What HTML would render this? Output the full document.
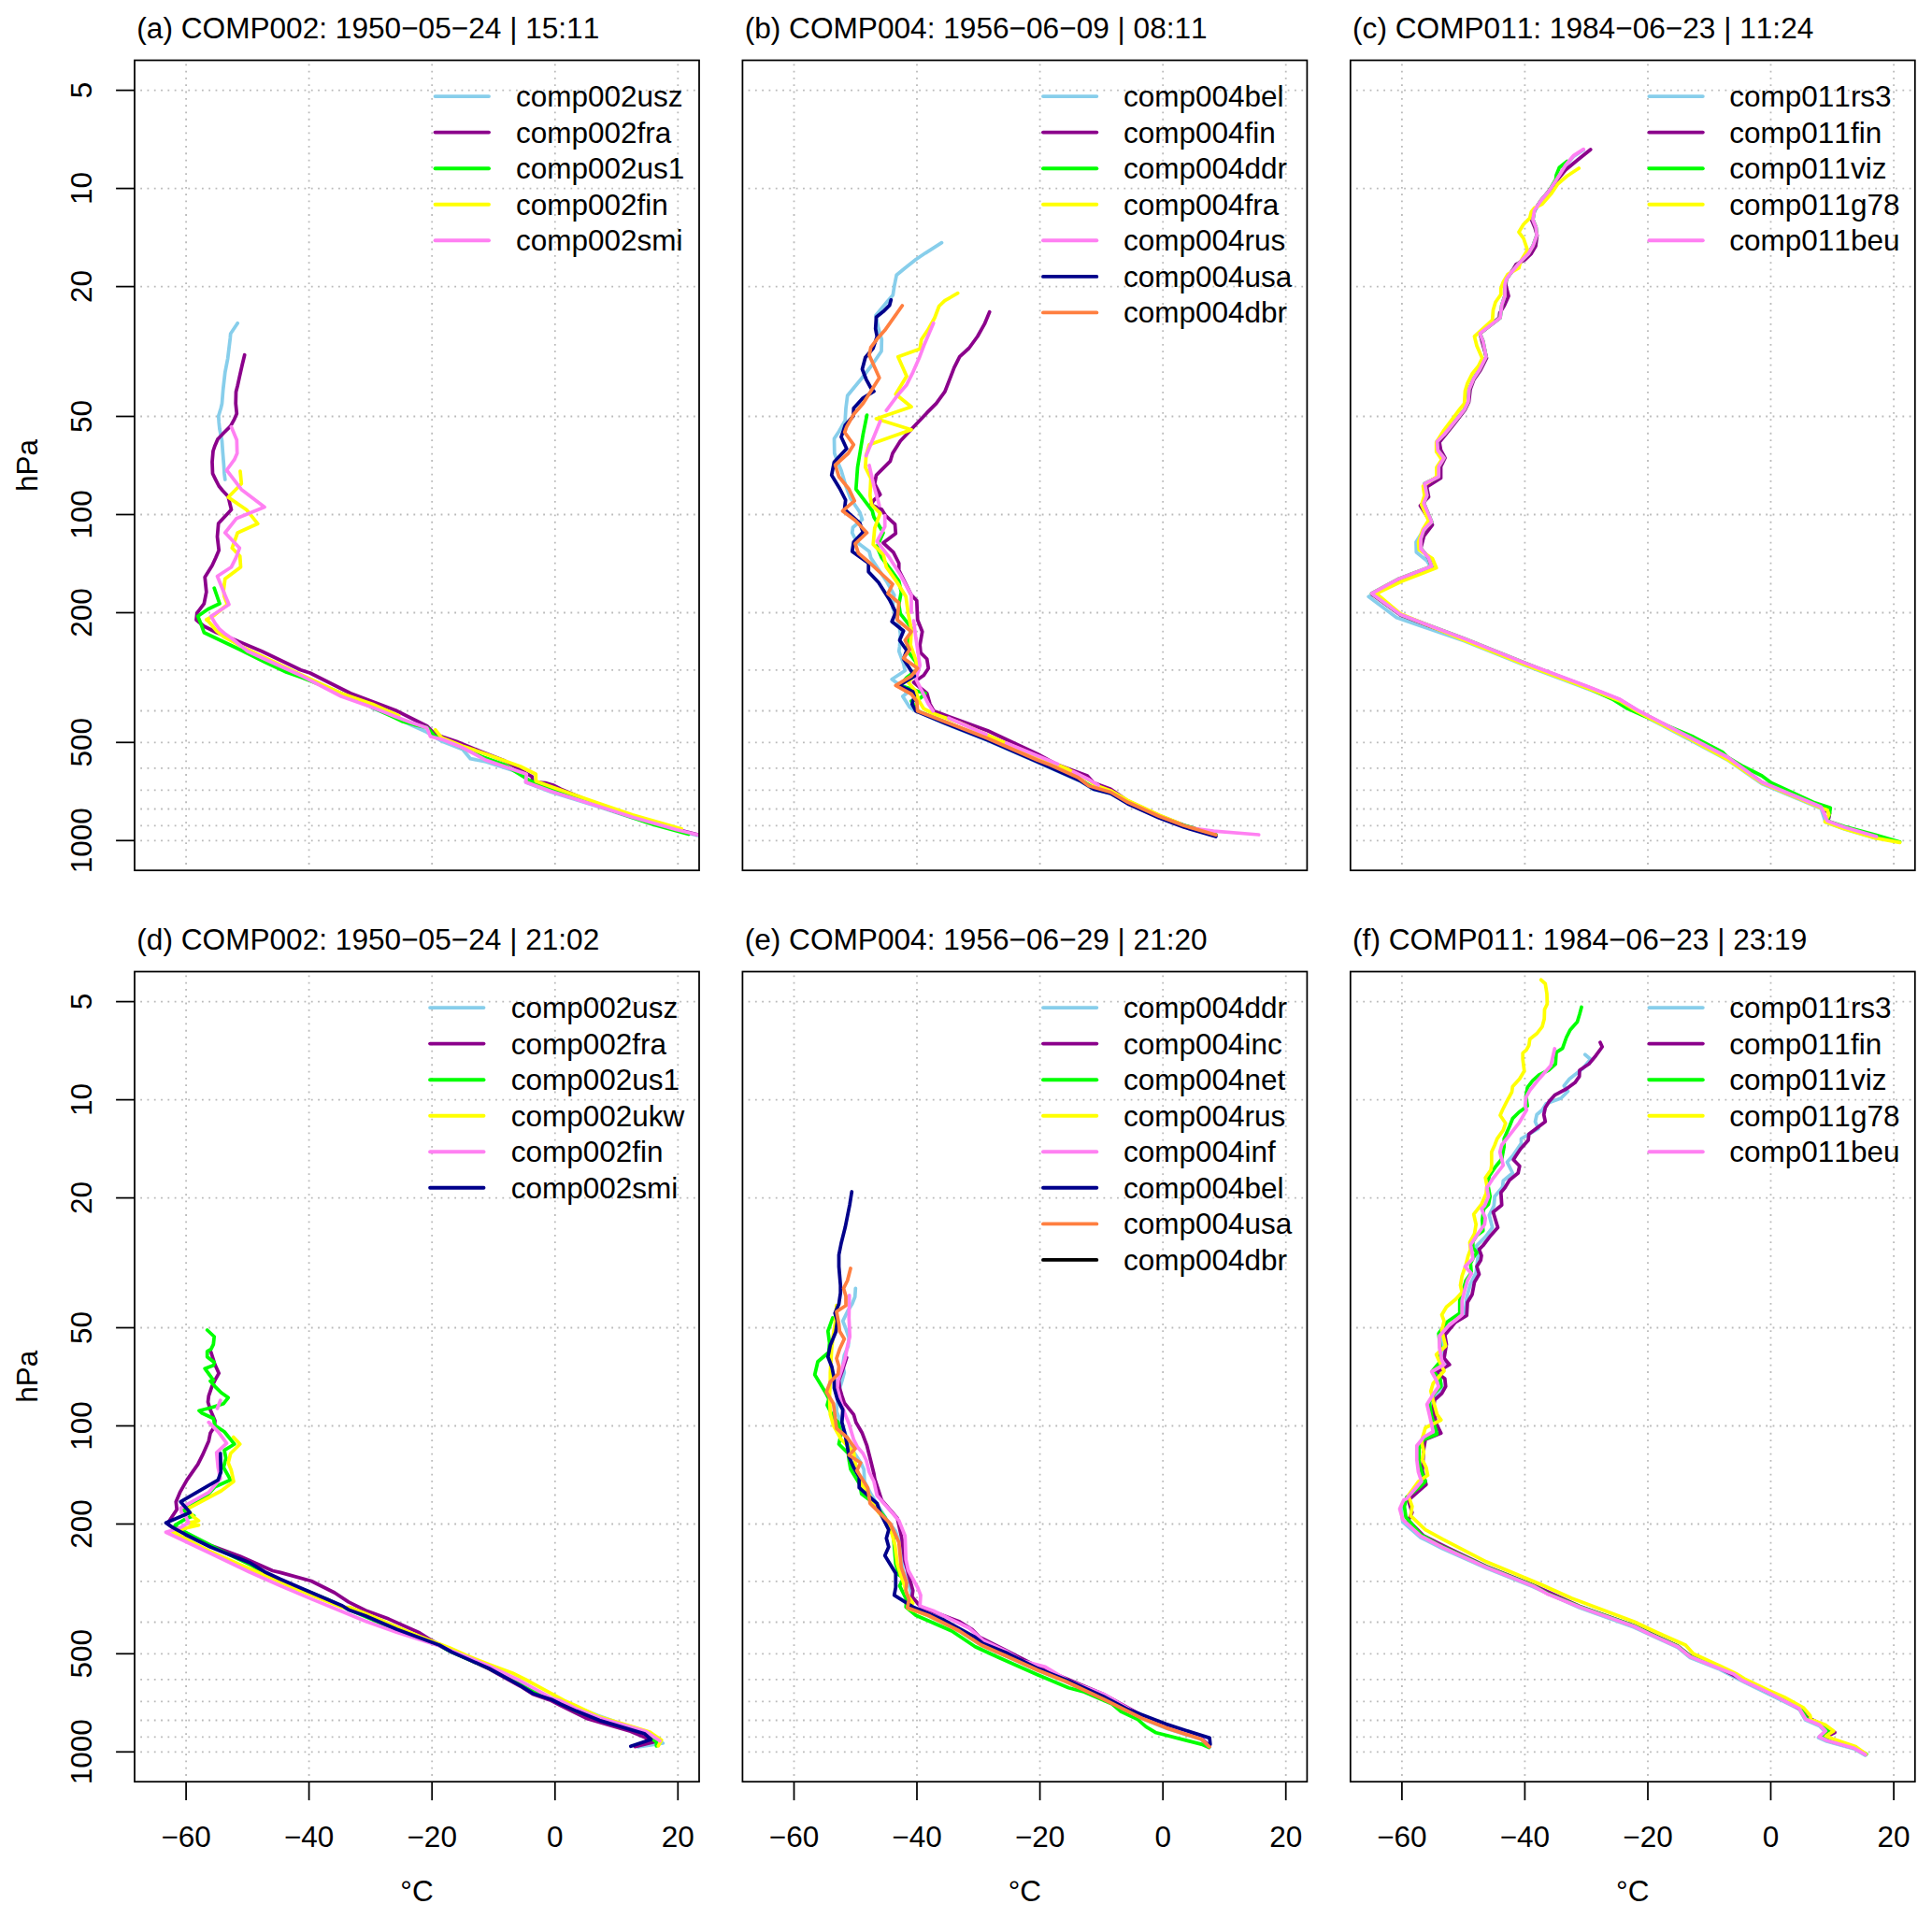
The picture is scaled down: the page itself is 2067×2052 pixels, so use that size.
<!DOCTYPE html>
<html><head><meta charset="utf-8"><title>profiles</title>
<style>html,body{margin:0;padding:0;background:#fff}svg{display:block}text{font-kerning:none;font-family:"Liberation Sans",sans-serif;font-size:31.5px;fill:#000}</style></head><body>
<svg width="2067" height="2052" viewBox="0 0 2067 2052">
<rect width="2067" height="2052" fill="#fff"/>
<defs>
<clipPath id="cp00"><rect x="144" y="64.5" width="604" height="866.7"/></clipPath>
<clipPath id="cp01"><rect x="794.4" y="64.5" width="604" height="866.7"/></clipPath>
<clipPath id="cp02"><rect x="1444.8" y="64.5" width="604" height="866.7"/></clipPath>
<clipPath id="cp10"><rect x="144" y="1039.5" width="604" height="866.7"/></clipPath>
<clipPath id="cp11"><rect x="794.4" y="1039.5" width="604" height="866.7"/></clipPath>
<clipPath id="cp12"><rect x="1444.8" y="1039.5" width="604" height="866.7"/></clipPath>
</defs>
<g>
<g stroke="#bababa" stroke-width="1.8" stroke-dasharray="1.8 5.505" fill="none"><path d="M150.2 96.6H747"/><path d="M150.2 201.6H747"/><path d="M150.2 306.6H747"/><path d="M150.2 445.5H747"/><path d="M150.2 550.5H747"/><path d="M150.2 655.5H747"/><path d="M150.2 716.9H747"/><path d="M150.2 760.5H747"/><path d="M150.2 794.3H747"/><path d="M150.2 821.9H747"/><path d="M150.2 845.3H747"/><path d="M150.2 865.5H747"/><path d="M150.2 883.4H747"/><path d="M150.2 899.3H747"/><path d="M199.1 68.4V930.2"/><path d="M330.6 68.4V930.2"/><path d="M462.2 68.4V930.2"/><path d="M593.8 68.4V930.2"/><path d="M725.3 68.4V930.2"/></g>
<g clip-path="url(#cp00)" fill="none" stroke-width="3.75" stroke-linejoin="round" stroke-linecap="round"><path stroke="#87CEEB" d="M254.2,345.8 246.7,357 246.3,361.7 243.7,383.3 240.8,398.3 238.7,416.7 237.5,431.7 236.3,436.7 233.8,445 234.2,451.7 235,459.2 237.5,471.7 238.3,483.3 239.5,498.3 240,506.7 240.8,513M398.3,757.5 423.3,767.5 440,775.8 456.7,783.3 473.3,793.3 495,801.7 503.3,811.7 520,815 563.3,829 562.5,837 590,847.5 640,863 676.7,875 723.3,888 746.7,894"/><path stroke="#8B008B" d="M261.7,379.7 259.2,390 256.2,403.3 254.2,412.5 252.5,419.2 252.2,431.7 253.3,442.5 250.8,448.3 246.7,455.8 240,462.5 233,469.7 230,476.7 228,482.5 227,494.2 227.5,506.7 230.8,513.3 234.2,520 238.3,525 244.2,531.3 245.8,538.3 247.5,545.3 240,553.3 233.7,560 232.5,574.2 234.2,588.7 230.8,596.7 227,605 219.2,617.5 220.8,633.3 218.3,645.8 210.8,655.8 210,663.3 218.3,670 231.7,676.7 245,682 280,696.7 321.7,716.7 331.7,720 375,741.7 423.3,760 456.7,776.7 465,785 473.3,788.3 488.3,793.3 512,803 540,814 563.3,827.5 569.2,830.8 570,836.7 583.3,837.5 591.7,840 600,844.2 640,861 676.7,873 723.3,887 746.7,893"/><path stroke="#00FF00" d="M229.2,629.2 235,645.8 222.5,651.7 211.7,659.2 215,667.5 218.3,676.7 256.7,695 283.3,708.3 306.7,719.2 323.3,725 356.7,738.3 398.3,756.7 423.3,768.3 430,771.7 443.3,775.3 456.7,778.3 460,781.7 465,787.5 473.3,790 495,800 515,809.2 540,818.3 560,830.8 566.7,835 576.7,839.2 598.3,846.7 640,862 690,879.2 700,882.5 736.7,892.5"/><path stroke="#FFFF00" d="M257,504.2 258.3,517.5 244.2,532 264.2,545.8 275.8,560.3 254.2,570 248.3,586.3 256.7,595 257.5,606.7 240.8,619.2 239.2,631.7 240,638.3 243.3,646.7 229.2,658.3 220.8,663 223.3,665 231.7,675 240,681.7 265,695 293.3,708.3 323.3,722.5 365,741.7 398.3,753.3 426.7,765.8M465.8,780.8 472.5,789.2 495,798.3 520,806.7 556.7,820 573.3,828.3 573.3,835.8 590,841.7 640,859.2 676.7,871.7 729.2,886.7"/><path stroke="#FF80F2" d="M247.5,456.7 253.3,470.8 253.7,485 250.8,491.7 242.5,503 258.3,523.7 283,542.5 253,554.7 240.8,570 256.3,586.3 252.5,596.7 247.5,606.7 232.5,616.5 240,635 245,646.7 225.8,659.2 230,666.7 235,673.3 240,677.5 248.3,683.3 265,696.7 290,708.3 323.3,723.3 365,745 398.3,756.7 423.3,766.7 440,772.9 456.7,778.8 460.4,787.9 475,791.7 495,800 520,813.3 563.3,828.3 562.5,836.7 590,846.7 640,862.5 676.7,874.2 723.3,887.5 746.7,893.3 752,894.6"/></g>
<g stroke-width="3.9" stroke-linecap="round"><path stroke="#87CEEB" d="M465.6 103.1H523"/><path stroke="#8B008B" d="M465.6 141.6H523"/><path stroke="#00FF00" d="M465.6 180.2H523"/><path stroke="#FFFF00" d="M465.6 218.8H523"/><path stroke="#FF80F2" d="M465.6 257.3H523"/></g><text x="552" y="114.1">comp002usz</text><text x="552" y="152.6">comp002fra</text><text x="552" y="191.2">comp002us1</text><text x="552" y="229.8">comp002fin</text><text x="552" y="268.3">comp002smi</text>
<rect x="144" y="64.5" width="604" height="866.7" fill="none" stroke="#000" stroke-width="1.75"/>
<text style="font-size:31.62px" x="146.3" y="41.3">(a) COMP002: 1950−05−24 | 15:11</text>
<g stroke="#000" stroke-width="1.75"><path d="M124.1 96.6H144"/><path d="M124.1 201.6H144"/><path d="M124.1 306.6H144"/><path d="M124.1 445.5H144"/><path d="M124.1 550.5H144"/><path d="M124.1 655.5H144"/><path d="M124.1 794.3H144"/><path d="M124.1 899.3H144"/></g><text text-anchor="middle" transform="translate(98.4 96.6) rotate(-90)">5</text><text text-anchor="middle" transform="translate(98.4 201.6) rotate(-90)">10</text><text text-anchor="middle" transform="translate(98.4 306.6) rotate(-90)">20</text><text text-anchor="middle" transform="translate(98.4 445.5) rotate(-90)">50</text><text text-anchor="middle" transform="translate(98.4 550.5) rotate(-90)">100</text><text text-anchor="middle" transform="translate(98.4 655.5) rotate(-90)">200</text><text text-anchor="middle" transform="translate(98.4 794.3) rotate(-90)">500</text><text text-anchor="middle" transform="translate(98.4 899.3) rotate(-90)">1000</text><text text-anchor="middle" transform="translate(40 497.9) rotate(-90)">hPa</text>
</g>
<g>
<g stroke="#bababa" stroke-width="1.8" stroke-dasharray="1.8 5.505" fill="none"><path d="M800.6 96.6H1397.4"/><path d="M800.6 201.6H1397.4"/><path d="M800.6 306.6H1397.4"/><path d="M800.6 445.5H1397.4"/><path d="M800.6 550.5H1397.4"/><path d="M800.6 655.5H1397.4"/><path d="M800.6 716.9H1397.4"/><path d="M800.6 760.5H1397.4"/><path d="M800.6 794.3H1397.4"/><path d="M800.6 821.9H1397.4"/><path d="M800.6 845.3H1397.4"/><path d="M800.6 865.5H1397.4"/><path d="M800.6 883.4H1397.4"/><path d="M800.6 899.3H1397.4"/><path d="M849.5 68.4V930.2"/><path d="M981 68.4V930.2"/><path d="M1112.6 68.4V930.2"/><path d="M1244.2 68.4V930.2"/><path d="M1375.7 68.4V930.2"/></g>
<g clip-path="url(#cp01)" fill="none" stroke-width="3.75" stroke-linejoin="round" stroke-linecap="round"><path stroke="#87CEEB" d="M1007.5,259.7 990,270.8 980,277.5 968.3,286.7 959.2,294.2 956.7,306.7 955.3,315.8 950,321.7 937,337.5 939.7,350.8 943.3,363.3 943,375.8 933.3,390 921.7,405 906.7,423.3 905,436.7 904.2,450 897.5,461.7 892.5,469.2 892.8,485 895.8,493.3 900,503.3 905,520 910,533.3 916.7,543.3 920,548.3 922.5,555.8 912.5,564.2 911.7,570 916.7,580 930,590 931.7,596.7 938.3,606.7 948.3,621.7 956.7,636.7 955,650 961.7,666.7 963.3,678.3 962.5,691.7 961.7,696.7 966.7,710 968.3,717.5 954.2,726.7 966.7,735.8 970,741.7 965.8,745 973.3,756.7 980,760.8 1010,773.8 1056.7,792.2 1110,815.5 1155,835.5 1170,844.7 1188.3,849 1206.7,859.5 1240,874.5 1266.7,884.5 1300.8,894"/><path stroke="#8B008B" d="M1058.7,333.7 1053.3,346.7 1045.8,360 1036.7,372.5 1026.7,381.7 1020.8,393.3 1016.7,404.2 1010.8,419.2 1001.7,431.7 991.7,441.7 976.7,457.5 963.3,471.7 955,485 952.5,493.3 937.5,508.3 935.8,517.5 941.7,529.2 935,535 931.7,540 943.3,545 947.5,551.7 957.5,560.8 958.3,570.8 945,580.8 955.8,590.8 961.7,602.5 961.7,610 975,636.7 980.8,642.5 981.7,663.3 986.7,675.8 984.2,690 985,698.3 991.7,705 993.3,715 988.3,722.5 977.5,730 991.7,741.7 995,753.3 999.2,760.8 1056.7,781.7 1110,806.7 1131.7,818.3 1163.3,830 1170,837.5 1188.3,844.2 1196.7,850 1206.7,857 1240,872.5 1266.7,883 1300.8,893.3"/><path stroke="#00FF00" d="M927.5,444.2 923.3,465 917.5,500 915.8,523.3 925.8,536.7 933.3,546.7 935,553.3 945,570 938.3,585 943.3,596.7 953.3,610 961.7,621.7 964.2,633.3 961.7,646.7 963.3,656.7 975,671.7 973.3,681.7 970,695 980,708.3 980.8,716.7 970,725 963.3,733.3 983.3,740 990,741.7 985,746.7 975,750 981.7,760.8 1010,772 1056.7,790.5 1110,813.5 1155,833.5 1170,843 1188.3,847.5 1206.7,858 1240,873 1266.7,883 1300.8,893"/><path stroke="#FFFF00" d="M1024.7,313.7 1010.8,321.7 1004.7,327.5 1000,340 992.5,353.3 985.8,363.3 984.2,373.3 960.8,381.7 970,402.5 958.3,421.7 975,435.3 937.5,448 975,459.7 930,475.8 926.7,486.7 925.8,500 931.7,511.7 930.8,530 932.5,540 941.7,549.2 935.8,565 934.2,582.5 945,593.3 948.3,606.7 960,623.3 969.2,638.3 971.7,656.7 975,673.3 974.2,690 980,706.7 981.7,718.3 971.7,730 980,740 983.3,750 988.3,758.3 998.3,763.3 1026.7,773.3 1068.3,791.7 1143.3,823.3 1165,834.5 1172,840 1188.3,846 1206.7,856.5 1240,872 1262,881"/><path stroke="#FF80F2" d="M998.7,345.8 988.3,370 983.3,383.3 976.7,398.3 970,411.7 960,423.3 948.3,439.2M941.7,450.8 926.7,487.5M930,498 935,520 940.8,540.8M946.7,551.7 946.7,563.3 938.3,579.2 951.7,596.7 963.3,615 975,636.7 975,655M977.5,664.2 980,683.3 984.2,711.7 980,726.7 986.7,740 993.3,753.3 998.3,760.8M1015,768.3 1055,785.8M1076.7,795 1131.7,817.5M1148.3,825.8 1165,834 1175,840M1273.3,885.8 1298.3,889.2 1346.7,893"/><path stroke="#00008B" d="M953.3,320.8 951.7,326.7 945,333.3 937.5,339.2 936.7,351.7 938.3,360 934.2,372.5 925.8,382.5 922.5,395 926.7,405.8 931.7,415 935,418.7 923.3,425.8 913.3,436.7 913,445 904.2,455 900,467.5 905.8,480 892.5,494.2 889.7,508.3 898.3,522.5 904.7,535 903.5,545 920,560 923.3,569.2 913.3,580 911.7,590 929.2,602.5 929.2,611.7 940,623.3 951.7,641.7 958.3,655 954.2,665 966.7,675 962.5,685 970,695.8 966.7,705 978.3,723.3 961.7,733.3 976.7,740 978.3,745 975.8,753.3 980,760.8 1010,773.3 1056.7,791.7 1110,815 1155,835 1170,844.2 1188.3,849 1206.7,860 1240,875 1266.7,885 1300.8,895"/><path stroke="#FF7F40" d="M965.3,327 946.7,353.3 939.2,361.7 931.7,371.7 930,380 940.8,404.2 923.3,431.7 913.3,443.3 905.8,456.7 903.7,462.5 913.3,475.8 907.5,485 893.7,497.5 897.5,510 908.3,523.3 914.2,535.8 901.5,546.7 915,556.7 927.5,570 915,581.7 918.3,591.7 930,601.7 955,625 950,635 961.7,645 960,663.3 975,675.8 968.3,685 973.3,695 966.7,704.2 981.7,715 975,723.3 958.3,733.3 975,742.5 980.8,750 981.7,760.8 1010,771.7 1056.7,790 1110,813.3 1123.3,818.3 1153.3,831.7 1165,840.8 1188.3,847.5 1206.7,858.3 1240,873.3 1266.7,883.3 1300.8,893.3"/></g>
<g stroke-width="3.9" stroke-linecap="round"><path stroke="#87CEEB" d="M1116 103.1H1173.3"/><path stroke="#8B008B" d="M1116 141.6H1173.3"/><path stroke="#00FF00" d="M1116 180.2H1173.3"/><path stroke="#FFFF00" d="M1116 218.8H1173.3"/><path stroke="#FF80F2" d="M1116 257.3H1173.3"/><path stroke="#00008B" d="M1116 295.9H1173.3"/><path stroke="#FF7F40" d="M1116 334.4H1173.3"/></g><text x="1202" y="114.1">comp004bel</text><text x="1202" y="152.6">comp004fin</text><text x="1202" y="191.2">comp004ddr</text><text x="1202" y="229.8">comp004fra</text><text x="1202" y="268.3">comp004rus</text><text x="1202" y="306.9">comp004usa</text><text x="1202" y="345.4">comp004dbr</text>
<rect x="794.4" y="64.5" width="604" height="866.7" fill="none" stroke="#000" stroke-width="1.75"/>
<text style="font-size:31.62px" x="796.7" y="41.3">(b) COMP004: 1956−06−09 | 08:11</text>
</g>
<g>
<g stroke="#bababa" stroke-width="1.8" stroke-dasharray="1.8 5.505" fill="none"><path d="M1451 96.6H2047.8"/><path d="M1451 201.6H2047.8"/><path d="M1451 306.6H2047.8"/><path d="M1451 445.5H2047.8"/><path d="M1451 550.5H2047.8"/><path d="M1451 655.5H2047.8"/><path d="M1451 716.9H2047.8"/><path d="M1451 760.5H2047.8"/><path d="M1451 794.3H2047.8"/><path d="M1451 821.9H2047.8"/><path d="M1451 845.3H2047.8"/><path d="M1451 865.5H2047.8"/><path d="M1451 883.4H2047.8"/><path d="M1451 899.3H2047.8"/><path d="M1499.9 68.4V930.2"/><path d="M1631.4 68.4V930.2"/><path d="M1763 68.4V930.2"/><path d="M1894.5 68.4V930.2"/><path d="M2026.1 68.4V930.2"/></g>
<g clip-path="url(#cp02)" fill="none" stroke-width="3.75" stroke-linejoin="round" stroke-linecap="round"><path stroke="#87CEEB" d="M1694.2,160.5 1683.3,167.5 1675,177.5 1666.7,191 1656.7,206 1648.3,216 1641.7,226 1640,235 1643.3,243.3 1644.2,251.7 1640,263.3 1635,271.7 1625,281.7 1616.7,291.7 1611.7,298.3 1610,305 1610,316.7 1606.7,326.7 1605,340 1583.3,356.7 1586.7,365 1590,381.7 1583.3,395 1576.7,405 1571.7,416.7 1570.8,430 1566.7,438.3 1553.3,455 1545,465 1537.5,472.5 1538.3,481.7 1545,490 1539.2,499.2 1539.2,510 1524.2,517.5 1526.7,530 1523.3,538.3 1531.7,558.3 1523.3,566.7 1515,580 1515.3,590.8 1526.7,600 1531,607 1496,621.5 1464.2,638.3 1494.2,660.8 1566.7,685.8 1633.3,712.5 1700,737.5 1733.3,750.5 1765,769 1810,792.5 1848.3,813 1885,838.5 1948.3,865 1953,879.5 1973.3,887 2007.5,897"/><path stroke="#8B008B" d="M1701.7,160 1688.3,170.8 1675,181.7 1666.7,191.7 1656.7,205 1648.3,215 1641.7,225 1638.5,235 1642,243.3 1644.5,251.7 1643,263.3 1638,271.7 1632,277.5 1622,283 1619,288 1611.7,298.3 1611,305 1614,316.7 1609.5,326.7 1604.5,335 1604,340 1583.3,356.7 1585.5,365 1590.5,383 1584,396 1576.7,406.5 1573,416.7 1571.5,430 1567.5,438.3 1554.5,455 1546.5,465 1540,473 1541.5,481.7 1546,490 1541.5,499.2 1541.5,511.5 1526.5,521 1528.5,531.7 1519.5,541 1532.5,561.5 1523.5,573.3 1520,586.7 1528.3,596.7 1531.7,606.5 1496.7,620 1468,636 1498.3,658 1566.7,683.8 1633.3,710.5 1700,735.5 1733.3,748.8 1751.7,760.2 1765,767 1810,790.3 1848.3,810.5 1885,837 1948.3,863.8 1957.5,870 1956.7,875 1955,878.5 1973.3,885.3 2007.5,895.3"/><path stroke="#00FF00" d="M1676.7,172.5 1668.3,179.2 1665,187.5 1664.5,192 1656.7,205 1648.3,215 1641.7,225 1640,235 1643.3,243.3 1644.2,251.7 1640,263.3 1635,271.7 1625,281.7 1616.7,291.7 1611.7,298.3 1610,305 1610,316.7 1606.7,326.7 1605,340 1583.3,356.7 1586.7,365 1590,381.7 1583.3,395 1576.7,405 1571.7,416.7 1570.8,430 1566.7,438.3 1553.3,455 1545,465 1537.5,472.5 1538.3,481.7 1545,490 1539.2,499.2 1539.2,510 1524.2,517.5 1526.7,530 1523.3,538.3 1531.7,558.3 1523.3,566.7 1520,576.7 1520,586.7 1528.3,596.7 1531.7,605.8 1496.7,619.2 1467.5,635 1498.3,657.5 1566.7,683.3 1633.3,710 1700,736.5 1725,748 1740,757.5 1756.7,765 1811.7,788.3 1843.3,805 1848.3,810 1865,820 1885,830 1895,837.5 1940,858.3 1958.3,864.2 1957.5,870 1955,878.3 1973.3,884.2 2006.7,893.3 2032.5,900.8"/><path stroke="#FFFF00" d="M1689.2,180 1676.7,188.3 1666.7,196.7 1660,206.7 1650,218.3 1641.7,222.5 1638.3,226.7 1636.7,233.3 1630,240 1625,248.3 1630,255 1634.2,267.5 1626.7,280 1625,286.7 1613.3,293.3 1608.3,301.7 1605.8,308.3 1605.8,315 1600,323.3 1597.5,331.7 1596.7,342.5 1577.5,360 1580,370 1585.8,383.3 1581.7,391.7 1575,400 1570,410 1567.5,418.3 1566.7,431.7 1560,440 1545,460 1536.7,473.3 1536.7,483.3 1542.5,491.7 1537,500 1537,510 1522.5,520 1524,530 1520.8,540 1528.3,556.7 1522,567 1517.5,580 1518.3,588.3 1532.5,597.5 1536.7,607.5 1500,621.7 1472.5,635 1498.3,656.7 1566.7,685 1633.3,711.7 1700,736.7 1733.3,750 1751.7,761.2 1765,768.3 1810,791.7 1848.3,812.5 1856.7,818.3 1885,837.5 1948.3,864.2 1955,866.7 1956.7,871.7 1952.5,879.2 1973.3,886.7 2006.7,896.7 2032.5,901.3"/><path stroke="#FF80F2" d="M1694.2,159.7 1683.3,166.7 1675,176.7 1666.7,190 1656.7,205 1648.3,215 1641.7,225 1640,235 1643.3,243.3 1644.2,251.7 1640,263.3 1635,271.7 1625,281.7 1616.7,291.7 1611.7,298.3 1610,305 1610,316.7 1606.7,326.7 1605,340 1583.3,356.7 1586.7,365 1590,381.7 1583.3,395 1576.7,405 1571.7,416.7 1570.8,430 1566.7,438.3 1553.3,455 1545,465 1537.5,472.5 1538.3,481.7 1545,490 1539.2,499.2 1539.2,510 1524.2,517.5 1526.7,530 1523.3,538.3 1531.7,558.3 1523.3,566.7 1520,576.7 1520,586.7 1528.3,596.7 1531.7,605.8 1496.7,619.2 1467.5,635 1498.3,657.5 1566.7,683.3 1633.3,710 1700,735 1733.3,748.3 1751.7,759.7 1765,766.7 1810,790 1848.3,810 1885,836.7 1948.3,863.3 1955,878.3 1973.3,885 2007.5,895"/></g>
<g stroke-width="3.9" stroke-linecap="round"><path stroke="#87CEEB" d="M1764.4 103.1H1821.8"/><path stroke="#8B008B" d="M1764.4 141.6H1821.8"/><path stroke="#00FF00" d="M1764.4 180.2H1821.8"/><path stroke="#FFFF00" d="M1764.4 218.8H1821.8"/><path stroke="#FF80F2" d="M1764.4 257.3H1821.8"/></g><text x="1850.3" y="114.1">comp011rs3</text><text x="1850.3" y="152.6">comp011fin</text><text x="1850.3" y="191.2">comp011viz</text><text x="1850.3" y="229.8">comp011g78</text><text x="1850.3" y="268.3">comp011beu</text>
<rect x="1444.8" y="64.5" width="604" height="866.7" fill="none" stroke="#000" stroke-width="1.75"/>
<text style="font-size:31.62px" x="1447.1" y="41.3">(c) COMP011: 1984−06−23 | 11:24</text>
</g>
<g>
<g stroke="#bababa" stroke-width="1.8" stroke-dasharray="1.8 5.505" fill="none"><path d="M150.2 1071.6H747"/><path d="M150.2 1176.6H747"/><path d="M150.2 1281.6H747"/><path d="M150.2 1420.5H747"/><path d="M150.2 1525.5H747"/><path d="M150.2 1630.5H747"/><path d="M150.2 1691.9H747"/><path d="M150.2 1735.5H747"/><path d="M150.2 1769.3H747"/><path d="M150.2 1796.9H747"/><path d="M150.2 1820.3H747"/><path d="M150.2 1840.5H747"/><path d="M150.2 1858.4H747"/><path d="M150.2 1874.3H747"/><path d="M199.1 1043.4V1905.2"/><path d="M330.6 1043.4V1905.2"/><path d="M462.2 1043.4V1905.2"/><path d="M593.8 1043.4V1905.2"/><path d="M725.3 1043.4V1905.2"/></g>
<g clip-path="url(#cp10)" fill="none" stroke-width="3.75" stroke-linejoin="round" stroke-linecap="round"><path stroke="#87CEEB" d="M590,1816.5 606.7,1823 640,1835.5 662,1843.2 691,1852.8 709.3,1865 683,1869"/><path stroke="#8B008B" d="M225.8,1446.7 230,1460 234.2,1469.2 230,1476.7 226.7,1483.3 223.3,1493.3 222.5,1500 225,1508.3 230,1520 229.2,1526.7 225,1533.3 223.3,1541.7 216.7,1556.7 211.7,1566.7 200,1583.3 192.5,1596.7 188.3,1606.7 189.2,1615 179.2,1630 183.3,1633.3 198.3,1640 225,1653.3 256.7,1665 291.7,1680.5 300,1682.4 333.1,1691.5 358,1704 372.9,1713.9 391.1,1723 415.9,1732.1 449.1,1747 461.7,1755 483.3,1767 523.3,1785.5 556.7,1804 570,1812.5 590,1819.5 600,1824.8 629,1839 674.5,1852.3 691.1,1859.2 699.4,1863.8 679.5,1868.7"/><path stroke="#00FF00" d="M221.7,1423 229.2,1430 228.3,1438.3 225.8,1443.3 221.7,1445.8 221.7,1451.7 229.2,1457.5 228.3,1460.8 219.2,1464.2 228.3,1476.7 225,1477.5 230,1483.3 236.7,1490 244.2,1495.3 239.2,1501.7 226.7,1505.8 213,1509.2 215.8,1511.7 228.3,1517.5 230,1525 240,1531.7 250.8,1545 240,1551.7 241.7,1560 239.2,1570 246.7,1583.3 230,1590.8 220,1601.7 201.7,1612.5 195,1616.7 207.5,1621.7 200,1624.2 187.5,1631.7 190,1635 233.3,1657.5 270,1675 293.3,1688.3 310,1695.8 326.7,1701.5 350,1711 370,1720.5 423.3,1743.5 470,1760.5 483.3,1767.5 523.3,1785 556.7,1802 570,1809.5 590,1817.5 616.7,1830.5 641.4,1839.5 689.4,1853.5 702.3,1863.8 702.3,1867.9"/><path stroke="#FFFF00" d="M249.7,1537.5 256.7,1545 246.7,1555 244.2,1565 247.5,1573.3 250,1585 236.7,1595 200,1614.7 207.5,1623.3 212.5,1627 200,1629.5 212.5,1631.7 198.3,1635 185,1639.2 225,1660 266.7,1678.3 293.3,1689.5 312.4,1698.2 333.1,1706.4 366.3,1719.7 374.5,1719.7 391.1,1726.3 424.2,1740.4 449.1,1750.7 481.7,1763.3 498.3,1770.8 523.3,1780.8 548.3,1790 565,1798.3 603.3,1819.2 615.7,1824.8 641.4,1836.9 695.2,1853 707.7,1861.7 704.3,1867.9"/><path stroke="#FF80F2" d="M235.8,1498.3 232.5,1506.7M223.3,1521.7 233.3,1531.7 242.5,1544.2 231.7,1554.2 233.3,1570 235.8,1581.7 223.3,1596.7 193.3,1613.3 194.2,1618.3 199.2,1623.3 201.7,1629.2 193.3,1634.2 177.5,1639.2 225,1661.7 266.7,1681.7 300,1696.5 333.1,1710.6 371.2,1726.3 391.1,1734.6 424.2,1746.2 470,1760.8 523.3,1782.5 556.7,1798.3 590,1816.7 600,1819.9 616.6,1828.2 641.4,1838.1 691.1,1852.6 706,1862.5"/><path stroke="#00008B" d="M235.8,1555 236.3,1575 233.3,1583.3 193.3,1606.7 203.3,1618.3 177.5,1629.2 183.3,1633.3 198.3,1641.7 225,1655 266.7,1671.7 283.3,1681.7 300,1689.5 324.8,1700.2 366.3,1718 372.9,1722.2 391.1,1728.8 424.2,1742.9 470,1760 483.3,1767.5 523.3,1785 556.7,1803.3 570,1811.7 590,1818.3 600,1823.2 616.6,1830.6 641.4,1840.6 689.4,1854.7 696.5,1860.9 674.9,1868.3"/></g>
<g stroke-width="3.9" stroke-linecap="round"><path stroke="#87CEEB" d="M460.1 1078.1H517.5"/><path stroke="#8B008B" d="M460.1 1116.6H517.5"/><path stroke="#00FF00" d="M460.1 1155.2H517.5"/><path stroke="#FFFF00" d="M460.1 1193.8H517.5"/><path stroke="#FF80F2" d="M460.1 1232.3H517.5"/><path stroke="#00008B" d="M460.1 1270.8H517.5"/></g><text x="546.7" y="1089.1">comp002usz</text><text x="546.7" y="1127.6">comp002fra</text><text x="546.7" y="1166.2">comp002us1</text><text x="546.7" y="1204.8">comp002ukw</text><text x="546.7" y="1243.3">comp002fin</text><text x="546.7" y="1281.8">comp002smi</text>
<rect x="144" y="1039.5" width="604" height="866.7" fill="none" stroke="#000" stroke-width="1.75"/>
<text style="font-size:31.62px" x="146.3" y="1016.3">(d) COMP002: 1950−05−24 | 21:02</text>
<g stroke="#000" stroke-width="1.75"><path d="M124.1 1071.6H144"/><path d="M124.1 1176.6H144"/><path d="M124.1 1281.6H144"/><path d="M124.1 1420.5H144"/><path d="M124.1 1525.5H144"/><path d="M124.1 1630.5H144"/><path d="M124.1 1769.3H144"/><path d="M124.1 1874.3H144"/></g><text text-anchor="middle" transform="translate(98.4 1071.6) rotate(-90)">5</text><text text-anchor="middle" transform="translate(98.4 1176.6) rotate(-90)">10</text><text text-anchor="middle" transform="translate(98.4 1281.6) rotate(-90)">20</text><text text-anchor="middle" transform="translate(98.4 1420.5) rotate(-90)">50</text><text text-anchor="middle" transform="translate(98.4 1525.5) rotate(-90)">100</text><text text-anchor="middle" transform="translate(98.4 1630.5) rotate(-90)">200</text><text text-anchor="middle" transform="translate(98.4 1769.3) rotate(-90)">500</text><text text-anchor="middle" transform="translate(98.4 1874.3) rotate(-90)">1000</text><text text-anchor="middle" transform="translate(40 1472.8) rotate(-90)">hPa</text>
<g stroke="#000" stroke-width="1.75"><path d="M199.1 1906.2V1926.1"/><path d="M330.6 1906.2V1926.1"/><path d="M462.2 1906.2V1926.1"/><path d="M593.8 1906.2V1926.1"/><path d="M725.3 1906.2V1926.1"/></g><text text-anchor="middle" x="199.1" y="1976.1">−60</text><text text-anchor="middle" x="330.6" y="1976.1">−40</text><text text-anchor="middle" x="462.2" y="1976.1">−20</text><text text-anchor="middle" x="593.8" y="1976.1">0</text><text text-anchor="middle" x="725.3" y="1976.1">20</text><text text-anchor="middle" x="446" y="2033.5">°C</text>
</g>
<g>
<g stroke="#bababa" stroke-width="1.8" stroke-dasharray="1.8 5.505" fill="none"><path d="M800.6 1071.6H1397.4"/><path d="M800.6 1176.6H1397.4"/><path d="M800.6 1281.6H1397.4"/><path d="M800.6 1420.5H1397.4"/><path d="M800.6 1525.5H1397.4"/><path d="M800.6 1630.5H1397.4"/><path d="M800.6 1691.9H1397.4"/><path d="M800.6 1735.5H1397.4"/><path d="M800.6 1769.3H1397.4"/><path d="M800.6 1796.9H1397.4"/><path d="M800.6 1820.3H1397.4"/><path d="M800.6 1840.5H1397.4"/><path d="M800.6 1858.4H1397.4"/><path d="M800.6 1874.3H1397.4"/><path d="M849.5 1043.4V1905.2"/><path d="M981 1043.4V1905.2"/><path d="M1112.6 1043.4V1905.2"/><path d="M1244.2 1043.4V1905.2"/><path d="M1375.7 1043.4V1905.2"/></g>
<g clip-path="url(#cp11)" fill="none" stroke-width="3.75" stroke-linejoin="round" stroke-linecap="round"><path stroke="#87CEEB" d="M915.3,1378.3 914.7,1387.5 911.7,1395 907.5,1401.7 901.7,1413.3 905,1421.7 908.3,1431.7 907.5,1440 903.3,1450 901.7,1460 903.3,1468.3 900.8,1477.5 897,1490 895,1510 905,1535 913.3,1553.3 921,1565 924.2,1572 925,1585 931.7,1598.3 950,1628 958.3,1638.3 963.3,1653.3 966,1680 973.3,1698.3 975,1705 972,1720 993.3,1728.8 1026.7,1745.5 1050,1760.5 1076.7,1772 1110,1787 1143.3,1800.5 1182,1818 1220.8,1838 1247.7,1849 1285.4,1861 1294.1,1869"/><path stroke="#8B008B" d="M905.8,1452.5 901.7,1465 897.5,1476.7 898.3,1485 900.8,1493.3 903.3,1500.8 913.3,1513.3 915.8,1521.7 922.5,1533.3 927.5,1546.7 931.7,1563.3 935,1576.7 935.8,1581.7 943.3,1605 960,1624.2 965,1646.7 968,1670 976.7,1701.7 975.8,1708.3 985,1719 998.3,1724.2 1026.7,1735 1040,1743.3 1048.3,1751.7 1076.7,1766 1110,1783 1143.3,1797 1182,1813.3 1220.8,1835 1247.7,1847 1285.4,1860 1294.1,1868"/><path stroke="#00FF00" d="M890.8,1410 885.8,1424.2 887.5,1436.7 886.7,1446.7 875,1456.7 871.7,1470.8 883.3,1490 886.7,1496.7 885,1503.3 891.7,1516.7 896.7,1521.7 900,1533.3 897.5,1545 907.5,1555 908.5,1563 910,1571.7 920,1588.3 921.7,1598.3 935,1608.3 946.7,1623.3 955.8,1643.3 958.3,1673.3 961.7,1685 966.7,1688.3 962.5,1696.7 970,1711.7 969.2,1719.2 980,1728.3 1018.3,1745 1043.3,1761.7 1068.3,1773.3 1110,1791.7 1143.3,1805.8 1160.2,1810.3 1189.8,1823.1 1199.2,1831.1 1216.7,1839.2 1226.1,1847.3 1236.9,1853.8 1274.6,1863.4 1285.4,1866.1 1293.4,1869.5"/><path stroke="#FFFF00" d="M895,1396.7 893.3,1416.7 891.7,1426.7 890,1440 888.3,1468.3 888.3,1476.7 887.5,1493.3 888.3,1513.3 891.7,1525 900,1540 913.3,1553.3 915,1565 921.7,1588.3 926.7,1593.3 940,1618 952,1632 957.5,1653.3 960,1673.3 964.2,1686.7 966.7,1693.3 970,1705 976.7,1715 972,1721 993.3,1728.5 1026.7,1745 1050,1760 1076.7,1771.5 1110,1786.5 1143.3,1800 1182,1817.5 1220.8,1837.5"/><path stroke="#FF80F2" d="M908.7,1385.8 908.3,1410 909.2,1430 906.7,1440 904.2,1453.3 900,1466.7 896.7,1476.7 895.8,1485 899.2,1498.3 904.2,1513.3 908.3,1523.3 913.3,1540 917.5,1548.3 923.3,1555 926.7,1562 930,1575 935,1585 938.3,1600 950,1613.3 961.7,1626.7 968.3,1643.3 969.2,1668.3 971.7,1680 981.7,1698.3 985,1706.7 984.2,1718.3 998.3,1723.3 1036.7,1741.7 1051.7,1755 1076.7,1766.7 1093.3,1776.7 1118.3,1783.3 1143.3,1798.3 1182,1813 1220.8,1836 1247.7,1847.5 1285.4,1860.3 1293,1868"/><path stroke="#00008B" d="M911.3,1275 909.2,1288.3 904.2,1313.3 900,1330 897.5,1342.5 897.5,1355 899.2,1375 899.2,1383.3 897.5,1395 893.3,1405 895.8,1413.3 894.2,1425 888.3,1439.2 885.8,1451.7 890,1462.5 892.5,1475 892.5,1485 895.8,1496.7 901.7,1508.3 900.8,1521.7 904.2,1535 906.7,1548.3 908.3,1558.3 913.3,1570 919.2,1580 919.2,1591.7 938.3,1608.3 941.7,1618.3 950.8,1636.7 948.3,1645.8 950.8,1655 946.7,1664.2 958.3,1683.3 958.3,1698.3 956.7,1706.7 976.7,1719.2 1010,1733.3 1043.3,1751.7 1051.7,1758.3 1076.7,1768.3 1110,1785 1143.3,1798.3 1180.4,1815 1207.3,1829.1 1247.7,1844.6 1294.1,1859.4 1294.8,1866.1"/><path stroke="#FF7F40" d="M910,1357 906.7,1370 902.5,1378.3 905,1386.7 905,1396.7 895,1403.3 897.5,1416.7 898.3,1424.2 903.3,1432.5 898.3,1443.3 895,1453.3 897.5,1461.7 896.7,1470 888.3,1478.3 884.2,1489.2 891.7,1501.7 893.3,1515 895,1528.3 906.7,1538.3 915,1550 908.3,1556.7 920.8,1565 916.7,1573.3 928.3,1591.7 930.8,1608.3 941.7,1619.2 952.5,1630 961.7,1650 964.2,1676.7 970,1693.3 969.2,1701.7 972.5,1711.7 970.8,1720 993.3,1728.3 1026.7,1745 1050,1760 1076.7,1771.7 1110,1786.7 1140,1798.8 1180.4,1817.7 1220.8,1837.9 1247.7,1848.6 1285.4,1860.8 1294.1,1868.8"/></g>
<g stroke-width="3.9" stroke-linecap="round"><path stroke="#87CEEB" d="M1116 1078.1H1173.3"/><path stroke="#8B008B" d="M1116 1116.6H1173.3"/><path stroke="#00FF00" d="M1116 1155.2H1173.3"/><path stroke="#FFFF00" d="M1116 1193.8H1173.3"/><path stroke="#FF80F2" d="M1116 1232.3H1173.3"/><path stroke="#00008B" d="M1116 1270.8H1173.3"/><path stroke="#FF7F40" d="M1116 1309.4H1173.3"/><path stroke="#000000" d="M1116 1347.9H1173.3"/></g><text x="1202" y="1089.1">comp004ddr</text><text x="1202" y="1127.6">comp004inc</text><text x="1202" y="1166.2">comp004net</text><text x="1202" y="1204.8">comp004rus</text><text x="1202" y="1243.3">comp004inf</text><text x="1202" y="1281.8">comp004bel</text><text x="1202" y="1320.4">comp004usa</text><text x="1202" y="1358.9">comp004dbr</text>
<rect x="794.4" y="1039.5" width="604" height="866.7" fill="none" stroke="#000" stroke-width="1.75"/>
<text style="font-size:31.62px" x="796.7" y="1016.3">(e) COMP004: 1956−06−29 | 21:20</text>
<g stroke="#000" stroke-width="1.75"><path d="M849.5 1906.2V1926.1"/><path d="M981 1906.2V1926.1"/><path d="M1112.6 1906.2V1926.1"/><path d="M1244.2 1906.2V1926.1"/><path d="M1375.7 1906.2V1926.1"/></g><text text-anchor="middle" x="849.5" y="1976.1">−60</text><text text-anchor="middle" x="981" y="1976.1">−40</text><text text-anchor="middle" x="1112.6" y="1976.1">−20</text><text text-anchor="middle" x="1244.2" y="1976.1">0</text><text text-anchor="middle" x="1375.7" y="1976.1">20</text><text text-anchor="middle" x="1096.4" y="2033.5">°C</text>
</g>
<g>
<g stroke="#bababa" stroke-width="1.8" stroke-dasharray="1.8 5.505" fill="none"><path d="M1451 1071.6H2047.8"/><path d="M1451 1176.6H2047.8"/><path d="M1451 1281.6H2047.8"/><path d="M1451 1420.5H2047.8"/><path d="M1451 1525.5H2047.8"/><path d="M1451 1630.5H2047.8"/><path d="M1451 1691.9H2047.8"/><path d="M1451 1735.5H2047.8"/><path d="M1451 1769.3H2047.8"/><path d="M1451 1796.9H2047.8"/><path d="M1451 1820.3H2047.8"/><path d="M1451 1840.5H2047.8"/><path d="M1451 1858.4H2047.8"/><path d="M1451 1874.3H2047.8"/><path d="M1499.9 1043.4V1905.2"/><path d="M1631.4 1043.4V1905.2"/><path d="M1763 1043.4V1905.2"/><path d="M1894.5 1043.4V1905.2"/><path d="M2026.1 1043.4V1905.2"/></g>
<g clip-path="url(#cp12)" fill="none" stroke-width="3.75" stroke-linejoin="round" stroke-linecap="round"><path stroke="#87CEEB" d="M1695.8,1128.3 1701.7,1133.3 1693.3,1143.3 1679.2,1154.2 1673.3,1161.7 1677.5,1167.5 1670,1175 1654.2,1180.8 1650,1187.5 1644.2,1192.5 1642.5,1200 1645.8,1207.5 1627.5,1218.3 1627.5,1223.3 1618.3,1236.7 1612.5,1243.3 1618.3,1255 1608.3,1263.3 1607.5,1270 1599.2,1280 1598.3,1290 1593.3,1300 1596.7,1313.3 1589.2,1323.3 1579.2,1333.3 1581.7,1340 1579.2,1361.7 1573.3,1373.3 1569.2,1388.3 1567,1406 1553,1417 1543,1429 1543,1442 1546,1456 1548,1460 1534,1468 1541,1477 1543,1484 1537,1492 1530,1502 1533,1517 1537,1532 1524,1538 1517,1547 1517,1562 1519,1575 1522,1585 1505,1604 1499,1615 1500.8,1628.3 1520,1645 1543.3,1656.7 1590,1677.5 1640,1697.5 1690,1720 1748.3,1741 1795,1762.5 1808.3,1773.5 1840,1786 1863,1798 1908.9,1820.5 1925,1828.5 1931.5,1840 1946.5,1846.5 1952.5,1852.5 1945.5,1859 1954.5,1863 1983.5,1871 1995.5,1878"/><path stroke="#8B008B" d="M1712,1115.3 1714.2,1120 1707.5,1129.2 1700,1138.3 1690,1145 1689.7,1151.7 1685,1158.3 1675.8,1165 1663.3,1171.7 1657.5,1178.3 1653.3,1185 1651.7,1192.5 1653.3,1200 1635.8,1213.3 1635,1220 1626.7,1229.2 1621.7,1236.7 1619.2,1240.8 1625.8,1247.5 1624.2,1255 1615,1262.5 1610,1270.8 1605.8,1275.8 1606.7,1289.2 1597.5,1296.7 1600,1305 1602.5,1313.3 1595,1321.7 1586.7,1332.5 1582.5,1336.7 1585,1343.3 1584.2,1348.3 1580,1355 1582.5,1363.3 1577.5,1371.7 1575,1385 1570,1393.3 1569.2,1407.5 1556.7,1415 1545.8,1428.3 1547.5,1438.3 1545,1453.3 1550.8,1460 1536.7,1468.3 1545.8,1475 1546.7,1483.3 1542.5,1490.8 1535,1497.5 1533.3,1506.7 1536.7,1523.3 1541.7,1533.3 1525,1540 1523.3,1550 1521.7,1573.3 1525.8,1588.3 1506.7,1605 1510.8,1618.3 1506.7,1626.7 1523.3,1643.3 1546.7,1655 1590,1675.7 1640,1695.7 1690,1718.5 1748.3,1739.3 1795,1761 1808.3,1771.5 1840,1784.5 1863,1796.5 1908.9,1818.5 1928.5,1830.1 1933.1,1837 1948,1844.5 1954.9,1850.8 1963,1853.6 1954.9,1857.7 1956,1862 1984,1870 1996,1877"/><path stroke="#00FF00" d="M1692,1077.5 1690,1085 1687.5,1093.3 1680,1101.7 1675.8,1110 1671.7,1121.7 1665,1125.8 1664.2,1138.3 1656.7,1145 1646.7,1150 1640,1155.8 1634.2,1163.3 1632.5,1173.3 1634.2,1183.3 1625,1190 1618.3,1196.7 1615,1205 1609.2,1218.3 1609.2,1226.7 1606.7,1240 1600,1248.3 1593.3,1258.3 1591.7,1266.7 1593.3,1275 1594.2,1280 1592.5,1288.3 1587.5,1293.3 1585.8,1305 1586.7,1316.7 1580,1321.7 1575.8,1328.3 1575.8,1335 1580,1340 1576.7,1345 1573.3,1351.7 1574.2,1361.7 1568.3,1370 1565,1381.7 1561.7,1391.7 1561.7,1405 1548.3,1414.2 1539.2,1426.7 1540.8,1440 1540.8,1456.7 1532.5,1466.7 1540.8,1475 1541.7,1483.3 1535,1490 1529.2,1500 1531.7,1515 1535.8,1528.3 1537.5,1534.2 1523.3,1540 1518.3,1550 1518.3,1565 1521.7,1576.7 1525,1585 1520,1590 1505,1601.7 1502.5,1611.7 1504.2,1623.3 1520,1641.7 1540,1653.3 1590,1676.2 1640,1696.2 1656.7,1705.3 1690,1718.7 1748.3,1739.5 1765,1747.8 1795,1761.2 1808.3,1772 1840,1784.5 1854.9,1790.5 1863,1796.8 1891.7,1810 1908.9,1819 1926,1827 1933,1838.5 1948,1845 1956,1851.5 1948,1858 1956,1862 1984.5,1870 1996.8,1876.6"/><path stroke="#FFFF00" d="M1648.7,1048.3 1653.3,1052.5 1655,1063.3 1655.3,1074.2 1652.5,1080 1652.2,1090 1650,1098.3 1644.2,1105.8 1636.7,1111.7 1635.8,1118.3 1633,1123.3 1629.2,1126.7 1629.2,1133.3 1630.8,1145.8 1625.8,1154.2 1618.3,1162.5 1617.5,1168.3 1611.7,1179.2 1607.5,1187.5 1605,1193.3 1610.8,1201.7 1608.3,1209.2 1601.7,1218.3 1599.2,1225 1595.8,1232.5 1595.8,1246.7 1595,1251.7 1589.2,1260 1590.8,1268.3 1590,1276.7 1585,1288.3 1576.7,1299.2 1579.2,1310 1577.5,1320 1572.5,1329.2 1573.3,1336.7 1570.8,1343.3 1568.3,1353.3 1564.2,1365 1562.5,1375 1564.2,1382.5 1557.5,1390 1547.5,1398.3 1542.5,1406.7 1545,1413.3 1542.5,1423.3 1545,1433.3 1546.7,1440 1536.7,1449.2 1540,1456.7 1545,1466.7 1539.2,1473.3 1533.3,1480 1530.8,1488.3 1533.3,1498.3 1537.5,1513.3 1541.7,1519.2 1525,1527.5 1520.8,1541.7 1523.3,1553.3 1521.7,1561.7 1525.8,1570 1527.5,1578.3 1517.5,1585 1506.7,1600 1510.8,1611.7 1509.2,1621.7 1525,1636.7 1543.3,1646.7 1590,1670.8 1648.3,1695 1681.7,1710 1748.3,1735 1773.3,1746.7 1803.3,1760 1811.7,1769.2 1840,1782.3 1857.2,1790.4 1866.4,1796.1 1891.7,1808.2 1908.9,1815.7 1929.6,1827.1 1936.5,1835.2 1937.7,1839.6 1952.6,1845.3 1961.8,1851.9 1953.8,1857.3 1960.6,1860.3 1985.9,1868.9 1996.3,1876.4"/><path stroke="#FF80F2" d="M1663.3,1122 1659.2,1140 1646.7,1154.2 1636.7,1166.7 1632.5,1174.2 1631.7,1183.3 1633.3,1187.5 1625,1201.7 1613.3,1216.7 1606.7,1225 1604.7,1232.5 1608.3,1246.7 1596.7,1261.7 1590.8,1270.8 1592.5,1280 1588.3,1290 1585,1293.3 1589.2,1303.3 1588.3,1310 1580,1321.7 1573.3,1331.7 1575,1340 1575.8,1346.7 1567.5,1355 1574.2,1362.5 1570,1370 1566.7,1381.7 1564.2,1391.7 1564.2,1406.7 1550,1418.3 1540,1429.2 1540,1441.7 1542.5,1455 1545,1460 1531.7,1467.5 1536.7,1476.7 1539.2,1483.3 1533.3,1491.7 1526.7,1502.5 1530,1516.7 1533.3,1531.7 1523.3,1537.5 1515.8,1546.7 1515.8,1561.7 1517.5,1575 1520.8,1585 1505,1603.3 1501.7,1605 1497.5,1614.2 1500.8,1625.8 1520,1643.3 1543.3,1655.5 1590,1676.7 1640,1696.7 1656.7,1705.8 1690,1719.2 1748.3,1740 1765,1748.3 1795,1761.7 1808.3,1772.5 1840,1785.3 1854.9,1791 1863,1797.3 1891.7,1810.6 1908.9,1819.7 1925,1827.8 1931.9,1839.3 1946.9,1845.6 1953.2,1851.9 1946.3,1858.2 1954.9,1862.3 1983.6,1870.3 1995.7,1877.2"/></g>
<g stroke-width="3.9" stroke-linecap="round"><path stroke="#87CEEB" d="M1764.4 1078.1H1821.8"/><path stroke="#8B008B" d="M1764.4 1116.6H1821.8"/><path stroke="#00FF00" d="M1764.4 1155.2H1821.8"/><path stroke="#FFFF00" d="M1764.4 1193.8H1821.8"/><path stroke="#FF80F2" d="M1764.4 1232.3H1821.8"/></g><text x="1850.3" y="1089.1">comp011rs3</text><text x="1850.3" y="1127.6">comp011fin</text><text x="1850.3" y="1166.2">comp011viz</text><text x="1850.3" y="1204.8">comp011g78</text><text x="1850.3" y="1243.3">comp011beu</text>
<rect x="1444.8" y="1039.5" width="604" height="866.7" fill="none" stroke="#000" stroke-width="1.75"/>
<text style="font-size:31.62px" x="1447.1" y="1016.3">(f) COMP011: 1984−06−23 | 23:19</text>
<g stroke="#000" stroke-width="1.75"><path d="M1499.9 1906.2V1926.1"/><path d="M1631.4 1906.2V1926.1"/><path d="M1763 1906.2V1926.1"/><path d="M1894.5 1906.2V1926.1"/><path d="M2026.1 1906.2V1926.1"/></g><text text-anchor="middle" x="1499.9" y="1976.1">−60</text><text text-anchor="middle" x="1631.4" y="1976.1">−40</text><text text-anchor="middle" x="1763" y="1976.1">−20</text><text text-anchor="middle" x="1894.5" y="1976.1">0</text><text text-anchor="middle" x="2026.1" y="1976.1">20</text><text text-anchor="middle" x="1746.8" y="2033.5">°C</text>
</g>
</svg></body></html>
